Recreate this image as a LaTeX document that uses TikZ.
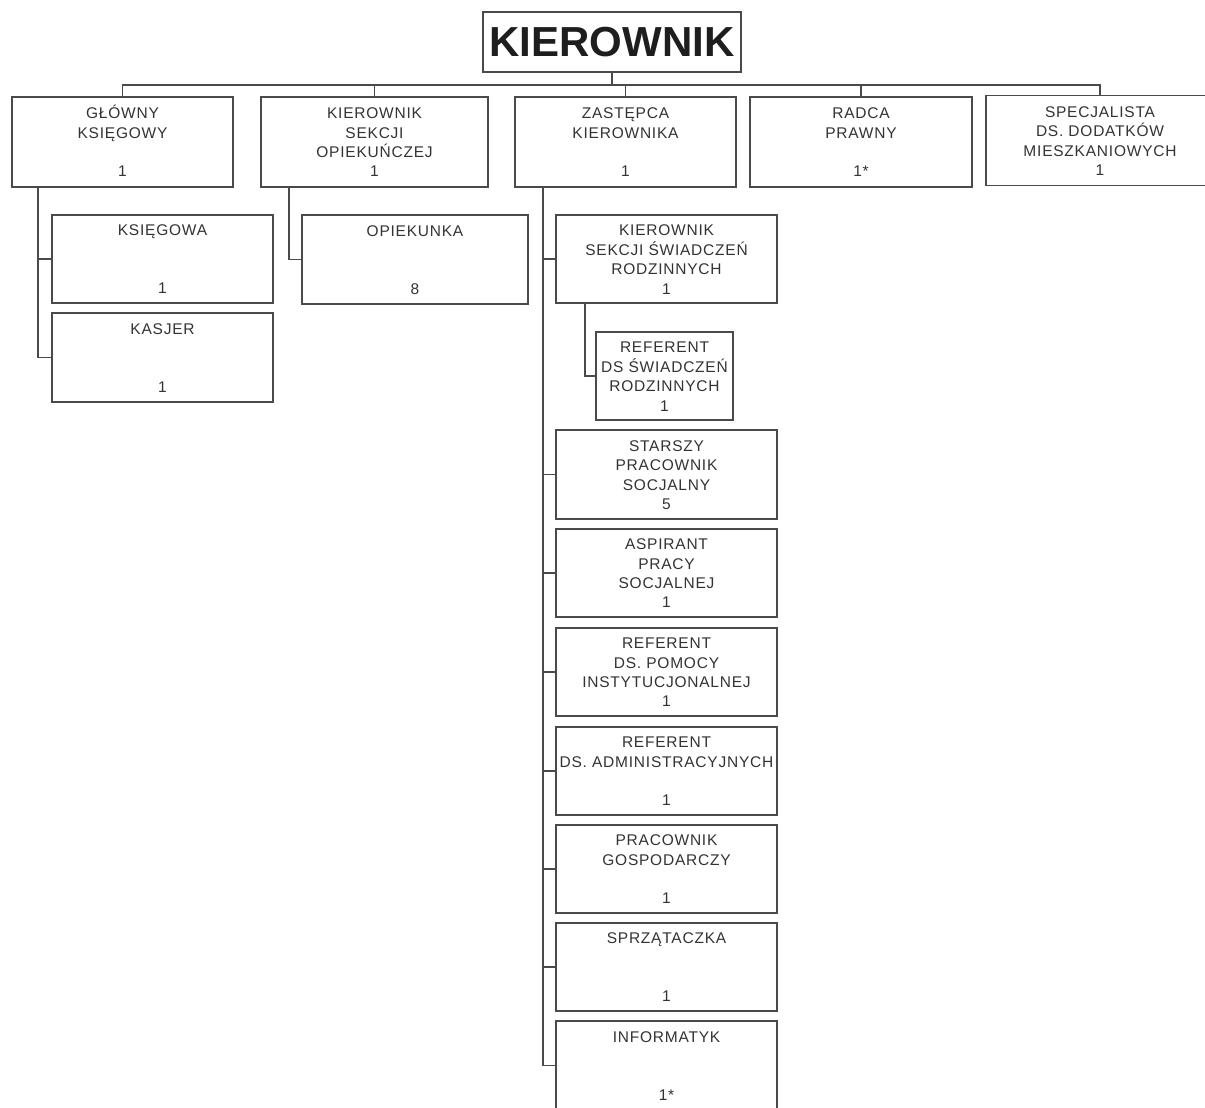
\documentclass[tikz,border=0pt]{standalone}
\usepackage{fontspec}
\setmainfont{Liberation Sans}
\newfontfamily\boxfont{Liberation Sans}[LetterSpace=5]
\newfontfamily\titlefont{Liberation Sans}
\definecolor{linec}{HTML}{4A4A4A}
\definecolor{textc}{HTML}{333333}
\definecolor{titlec}{HTML}{1E1E1E}
\tikzset{
  orgbox/.style={draw=linec, line width=1.2pt, inner sep=0pt, outer sep=0pt,
    font=\boxfont\fontsize{15.5}{19.4}\selectfont, text=textc},
  titlebox/.style={draw=linec, line width=1.2pt, inner sep=0pt, outer sep=0pt,
    font=\titlefont\bfseries\fontsize{42}{42}\selectfont, text=titlec},
  link/.style={draw=linec, line width=1.2pt},
}
\newcommand\lines[1]{\begin{tabular}{@{}c@{}}\rule{0pt}{17.6pt}#1\end{tabular}}
\begin{document}
\begin{tikzpicture}[x=1pt,y=-1pt]
\useasboundingbox[fill=white] (0,0) rectangle (1205,1108);
% head
\node[titlebox, minimum width=258pt, minimum height=60pt] (boss) at (612,42) {KIEROWNIK};
\coordinate (bus) at (612,85);
% top row
\node[orgbox, minimum width=221pt, minimum height=90pt] (glowny) at (122.5,142) {\lines{GŁÓWNY\\KSIĘGOWY\\ \\1}};
\node[orgbox, minimum width=227pt, minimum height=90pt] (kso) at (374.5,142) {\lines{KIEROWNIK\\SEKCJI\\OPIEKUŃCZEJ\\1}};
\node[orgbox, minimum width=221pt, minimum height=90pt] (zast) at (625.5,142) {\lines{ZASTĘPCA\\KIEROWNIKA\\ \\1}};
\node[orgbox, minimum width=222pt, minimum height=90pt] (radca) at (861,142) {\lines{RADCA\\PRAWNY\\ \\1*}};
\node[orgbox, minimum width=228pt, minimum height=90pt] (spec) at (1100,140.5) {\lines{SPECJALISTA\\DS. DODATKÓW\\MIESZKANIOWYCH\\1}};
% under glowny
\node[orgbox, minimum width=221pt, minimum height=88pt] (ksieg) at (162.5,259) {\lines{KSIĘGOWA\\ \\ \\1}};
\node[orgbox, minimum width=221pt, minimum height=89pt] (kasjer) at (162.5,357.5) {\lines{KASJER\\ \\ \\1}};
% under kso
\node[orgbox, minimum width=226pt, minimum height=89pt] (opiek) at (415,259.5) {\lines{OPIEKUNKA\\ \\ \\8}};
% under zast
\node[orgbox, minimum width=221pt, minimum height=88pt] (ksr) at (666.5,259) {\lines{KIEROWNIK\\SEKCJI ŚWIADCZEŃ\\RODZINNYCH\\1}};
\node[orgbox, minimum width=137pt, minimum height=88pt] (refsr) at (664.5,376) {\lines{REFERENT\\DS ŚWIADCZEŃ\\RODZINNYCH\\1}};
\node[orgbox, minimum width=221pt, minimum height=89pt] (starszy) at (666.5,474.5) {\lines{STARSZY\\PRACOWNIK\\SOCJALNY\\5}};
\node[orgbox, minimum width=221pt, minimum height=88pt] (aspirant) at (666.5,573) {\lines{ASPIRANT\\PRACY\\SOCJALNEJ\\1}};
\node[orgbox, minimum width=221pt, minimum height=88pt] (refpom) at (666.5,672) {\lines{REFERENT\\DS. POMOCY\\INSTYTUCJONALNEJ\\1}};
\node[orgbox, minimum width=221pt, minimum height=88pt] (refadm) at (666.5,771) {\lines{REFERENT\\DS. ADMINISTRACYJNYCH\\ \\1}};
\node[orgbox, minimum width=221pt, minimum height=88pt] (pracg) at (666.5,869) {\lines{PRACOWNIK\\GOSPODARCZY\\ \\1}};
\node[orgbox, minimum width=221pt, minimum height=88pt] (sprz) at (666.5,967) {\lines{SPRZĄTACZKA\\ \\ \\1}};
\node[orgbox, minimum width=221pt, minimum height=89pt] (inform) at (666.5,1065.5) {\lines{INFORMATYK\\ \\ \\1*}};
% top connectors
\draw[link] (boss.south) -- (bus);
\draw[link] (glowny.north) -- (glowny.north |- bus) -- (bus -| spec.north) -- (spec.north);
\draw[link] (kso.north) -- (kso.north |- bus);
\draw[link] (zast.north) -- (zast.north |- bus);
\draw[link] (radca.north) -- (radca.north |- bus);
% glowny children
\coordinate (gdrop) at ([xshift=26pt]glowny.south west);
\draw[link] (gdrop) |- (kasjer.west);
\draw[link] (ksieg.west) -- (ksieg.west -| gdrop);
% kso children
\coordinate (kdrop) at ([xshift=28pt]kso.south west);
\draw[link] (kdrop) |- (opiek.west);
% zast children
\coordinate (zdrop) at ([xshift=28pt]zast.south west);
\draw[link] (zdrop) |- (inform.west);
\foreach \n in {ksr,starszy,aspirant,refpom,refadm,pracg,sprz}
  \draw[link] (\n.west) -- (\n.west -| zdrop);
% ksr child
\coordinate (rdrop) at ([xshift=29pt]ksr.south west);
\draw[link] (rdrop) |- (refsr.west);
\end{tikzpicture}
\end{document}
